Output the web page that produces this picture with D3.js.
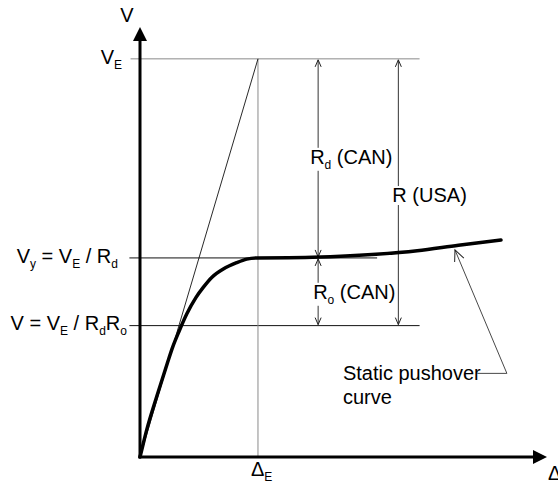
<!DOCTYPE html>
<html>
<head>
<meta charset="utf-8">
<script src="https://cdn.jsdelivr.net/npm/d3@7"></script>
<style>
  body { margin: 0; background: #fff; }
  svg { display: block; }
  text { font-family: "Liberation Sans", Arial, sans-serif; fill: #000; }
</style>
</head>
<body>
<div id="chart"></div>
<script>
// valeurs de référence (V_E = 100, Δ_E = 100)
const V_E = 100, V_Y = 50, V_RO = 33, DELTA_E = 100;
const xMax = 345, yMax = 108;

// courbe pushover (déplacement, effort)
const pushX = [0, 2.8, 5.7, 14.2, 23.1, 27.7, 33.3, 39.6, 47.5, 53.6, 60.8, 70.6, 81.9, 90.4, 99, 140, 170, 200, 235, 270, 306];
const pushV = [0, 3.4, 6.8, 15.2, 23.5, 27.6, 31.7, 35.9, 40.1, 42.6, 45.1, 47.2, 48.8, 49.7, 50, 50.1, 50.4, 50.9, 51.8, 53.2, 54.5];

// droite élastique
const elasticX = [0, DELTA_E];
const elasticV = [0, V_E];

// positions des cotes (en déplacement)
const dimRdX = 151, dimRX = 219, lineEndX = 237, vyLineEndX = 201;
const pointerTip = [267, 52], pointerElbow = [311, 21], pointerEnd = [286, 21];

const width = 558, height = 484;
const x = d3.scaleLinear().domain([0, xMax]).range([140, 547]);
const y = d3.scaleLinear().domain([0, yMax]).range([457, 27]);

const svg = d3.select("#chart").append("svg")
  .attr("width", width)
  .attr("height", height);

const defs = svg.append("defs");
defs.append("marker")
  .attr("id", "tip")
  .attr("viewBox", "-8 -5 10 10")
  .attr("refX", 0).attr("refY", 0)
  .attr("markerWidth", 10).attr("markerHeight", 10)
  .attr("markerUnits", "userSpaceOnUse")
  .attr("orient", "auto-start-reverse")
  .append("path")
  .attr("d", "M-7,-3L0,0L-7,3")
  .attr("fill", "none")
  .attr("stroke", "#222")
  .attr("stroke-width", 1);
defs.append("marker")
  .attr("id", "bigtip")
  .attr("viewBox", "-13 -7 15 14")
  .attr("refX", 0).attr("refY", 0)
  .attr("markerWidth", 15).attr("markerHeight", 14)
  .attr("markerUnits", "userSpaceOnUse")
  .attr("orient", "auto-start-reverse")
  .append("path")
  .attr("d", "M-11,-5L0,0L-11,5")
  .attr("fill", "none")
  .attr("stroke", "#222")
  .attr("stroke-width", 1);

// lignes de référence
const ref = svg.append("g");
ref.append("line")
  .attr("x1", x(-8)).attr("x2", x(lineEndX))
  .attr("y1", y(V_E)).attr("y2", y(V_E))
  .attr("stroke", "#8a8a8a").attr("stroke-width", 1);
ref.append("line")
  .attr("x1", x(-9)).attr("x2", x(vyLineEndX))
  .attr("y1", y(V_Y)).attr("y2", y(V_Y))
  .attr("stroke", "#111").attr("stroke-width", 1);
ref.append("line")
  .attr("x1", x(-9)).attr("x2", x(lineEndX))
  .attr("y1", y(V_RO)).attr("y2", y(V_RO))
  .attr("stroke", "#111").attr("stroke-width", 1);
ref.append("line")
  .attr("x1", x(DELTA_E)).attr("x2", x(DELTA_E))
  .attr("y1", y(V_E)).attr("y2", y(0))
  .attr("stroke", "#8a8a8a").attr("stroke-width", 1);

// droite élastique
const line = d3.line().x((d) => x(d[0])).y((d) => y(d[1]));
svg.append("path")
  .attr("d", line(d3.zip(elasticX, elasticV)))
  .attr("fill", "none")
  .attr("stroke", "#111")
  .attr("stroke-width", 0.9);

// cotes
const dims = svg.append("g");
[[dimRdX, V_E, V_Y], [dimRdX, V_Y, V_RO], [dimRX, V_E, V_RO]].forEach((d) => {
  dims.append("line")
    .attr("x1", x(d[0])).attr("x2", x(d[0]))
    .attr("y1", y(d[1]) + 1).attr("y2", y(d[2]) - 1)
    .attr("stroke", "#333").attr("stroke-width", 1)
    .attr("marker-start", "url(#tip)")
    .attr("marker-end", "url(#tip)");
});

// courbe pushover
svg.append("path")
  .attr("d", line.curve(d3.curveMonotoneX)(d3.zip(pushX, pushV)))
  .attr("fill", "none")
  .attr("stroke", "#000")
  .attr("stroke-width", 3.5)
  .attr("stroke-linecap", "round");

// axes
const axes = svg.append("g");
axes.append("line")
  .attr("x1", x(0)).attr("x2", x(0))
  .attr("y1", y(0) + 1).attr("y2", y(yMax) + 12)
  .attr("stroke", "#000").attr("stroke-width", 3);
axes.append("line")
  .attr("x1", x(0) - 1.5).attr("x2", x(xMax) - 12)
  .attr("y1", y(0)).attr("y2", y(0))
  .attr("stroke", "#000").attr("stroke-width", 3);
axes.append("path")
  .attr("d", `M${x(0)},${y(yMax)}L${x(0) + 7},${y(yMax) + 14}L${x(0) - 7},${y(yMax) + 14}Z`)
  .attr("fill", "#000");
axes.append("path")
  .attr("d", `M${x(xMax)},${y(0)}L${x(xMax) - 14},${y(0) - 7}L${x(xMax) - 14},${y(0) + 7}Z`)
  .attr("fill", "#000");

// texte avec indices
function label(g, px, py, parts, anchor, size) {
  size = size || 20;
  const t = g.append("text")
    .attr("x", px).attr("y", py)
    .attr("text-anchor", anchor || "start")
    .style("font-size", size + "px");
  let shifted = false;
  parts.forEach((p) => {
    const sub = Array.isArray(p);
    const s = t.append("tspan").text(sub ? p[0] : p);
    if (sub) {
      s.style("font-size", Math.round(size * 0.62) + "px");
      if (!shifted) { s.attr("dy", 5); shifted = true; }
    } else if (shifted) {
      s.attr("dy", -5); shifted = false;
    }
  });
  return t;
}

function boxed(g, t) {
  const b = t.node().getBBox();
  g.insert("rect", "text")
    .attr("x", b.x - 1).attr("y", b.y + 2)
    .attr("width", b.width + 2).attr("height", b.height - 3)
    .attr("fill", "#fff");
}

const labels = svg.append("g");
label(labels, x(0) - 13, y(yMax) - 5, ["V"], "middle");
label(labels, x(0) - 18, y(V_E) + 5, ["V", ["E"]], "end");
label(labels, x(0) - 22, y(V_Y) + 5, ["V", ["y"], " = V", ["E"], " / R", ["d"]], "end");
label(labels, x(0) - 13, y(V_RO) + 4, ["V = V", ["E"], " / R", ["d"], "R", ["o"]], "end");
label(labels, x(DELTA_E) - 7, y(0) + 19, ["Δ", ["E"]], "start");
label(labels, x(xMax) + 1, y(0) + 23, ["Δ"], "start");

const dimLabels = [
  { px: x(dimRdX) - 8, py: y(75.4) + 7, parts: ["R", ["d"], " (CAN)"] },
  { px: x(dimRX) - 6, py: y(65.8) + 7, parts: ["R (USA)"] },
  { px: x(dimRdX) - 5, py: y(41.5) + 7, parts: ["R", ["o"], " (CAN)"] }
];
dimLabels.forEach((d) => {
  const g = labels.append("g");
  const t = label(g, d.px, d.py, d.parts, "start");
  boxed(g, t);
});

// annotation
const note = svg.append("g");
note.append("path")
  .attr("d", line.curve(d3.curveLinear)([pointerEnd, pointerElbow, pointerTip]))
  .attr("fill", "none")
  .attr("stroke", "#333")
  .attr("stroke-width", 0.9)
  .attr("marker-end", "url(#bigtip)");
label(note, x(172), y(pointerEnd[1]) + 7, ["Static pushover"], "start");
label(note, x(172), y(15.1) + 7, ["curve"], "start");
</script>
</body>
</html>
